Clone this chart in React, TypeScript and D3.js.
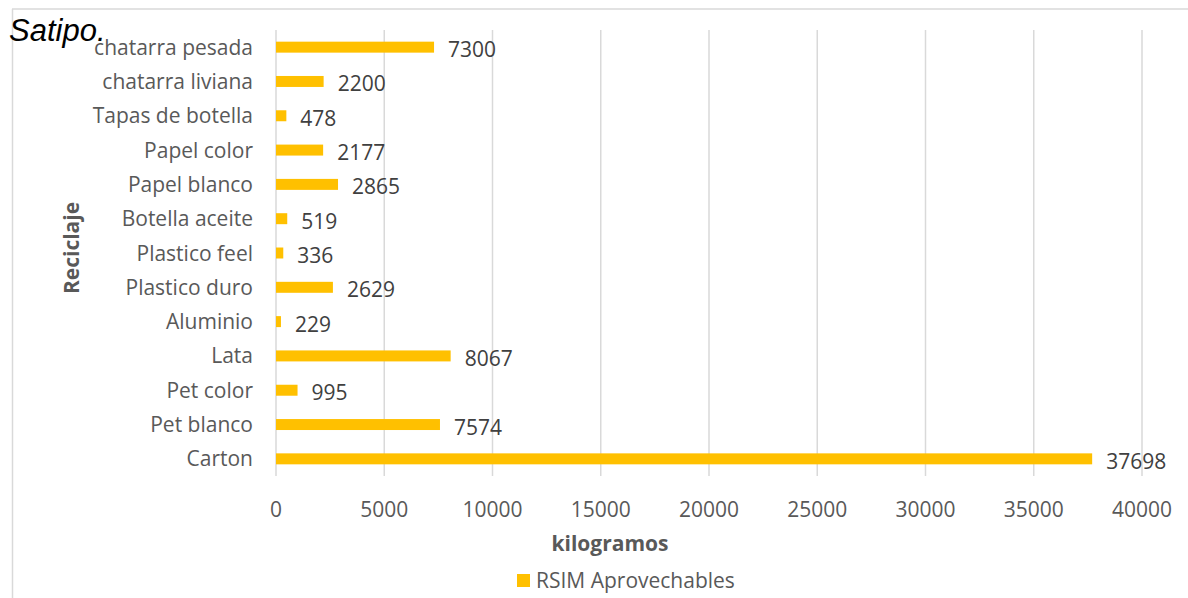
import React from "react";
import * as d3 from "d3";

const categories = [
  "chatarra pesada",
  "chatarra liviana",
  "Tapas de botella",
  "Papel color",
  "Papel blanco",
  "Botella aceite",
  "Plastico feel",
  "Plastico duro",
  "Aluminio",
  "Lata",
  "Pet color",
  "Pet blanco",
  "Carton",
];
const values = [7300, 2200, 478, 2177, 2865, 519, 336, 2629, 229, 8067, 995, 7574, 37698];
const xTicks = [0, 5000, 10000, 15000, 20000, 25000, 30000, 35000, 40000];
const seriesName = "RSIM Aprovechables";
const xTitle = "kilogramos";
const yTitle = "Reciclaje";
const caption = "Satipo.";

const W = 1188;
const H = 598;
const FONT = "'Open Sans', sans-serif";
const FS = 21;

export default function App() {
  const x = d3.scaleLinear().domain([0, 40000]).range([276, 1142]);
  const y = d3.scaleBand<string>().domain(categories).range([30, 476]).paddingInner(0.68).paddingOuter(0.34);
  const bh = y.bandwidth();
  return (
    <svg width={W} height={H} style={{ position: "absolute", left: 0, top: 0 }}>
      <rect x={0} y={0} width={W} height={H} fill="#fff" />
      <line x1={12} y1={9} x2={W} y2={9} stroke="#d9d9d9" strokeWidth={1.5} />
      <line x1={12.5} y1={9} x2={12.5} y2={H} stroke="#d9d9d9" strokeWidth={1.5} />
      {xTicks.map((t) => (
        <g key={t}>
          <line x1={x(t)} x2={x(t)} y1={30} y2={476} stroke="#d9d9d9" strokeWidth={1.5} />
          <text x={x(t)} y={517} textAnchor="middle" fontFamily={FONT} fontSize={FS} fill="#595959">
            {t}
          </text>
        </g>
      ))}
      {categories.map((c, i) => {
        const yc = (y(c) as number) + bh / 2;
        return (
          <g key={c}>
            <rect x={x(0)} y={y(c)} width={x(values[i]) - x(0)} height={bh} fill="#ffc000" />
            <text x={253} y={yc + 7.5} textAnchor="end" fontFamily={FONT} fontSize={FS} fill="#595959">
              {c}
            </text>
            <text x={x(values[i]) + 14} y={yc + 10} fontFamily={FONT} fontSize={FS} fill="#404040">
              {values[i]}
            </text>
          </g>
        );
      })}
      <text x={610} y={551} textAnchor="middle" fontFamily={FONT} fontSize={FS} fontWeight="bold" fill="#595959">
        {xTitle}
      </text>
      <text
        transform="translate(79,248) rotate(-90)"
        textAnchor="middle"
        fontFamily={FONT}
        fontSize={FS}
        fontWeight="bold"
        fill="#595959"
      >
        {yTitle}
      </text>
      <rect x={517} y={574} width={13} height={13} fill="#ffc000" />
      <text x={536} y={588} fontFamily={FONT} fontSize={FS} fill="#595959">
        {seriesName}
      </text>
      <text x={9} y={41} fontFamily="Arial, 'Liberation Sans', sans-serif" fontStyle="italic" fontSize={31} fill="#000">
        {caption}
      </text>
    </svg>
  );
}
